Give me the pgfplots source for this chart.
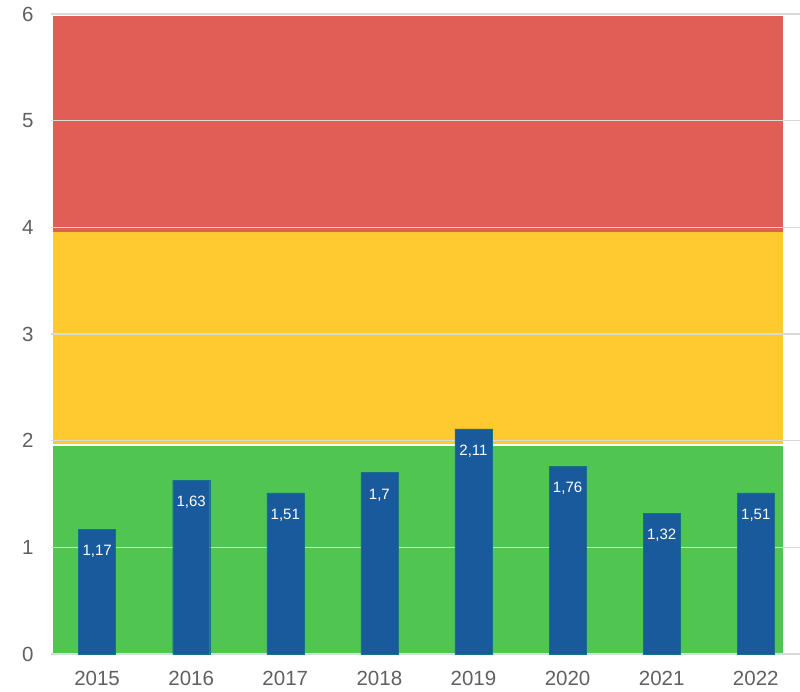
\documentclass[border=0pt]{standalone}
\usepackage{fontspec}
\setmainfont{Liberation Sans}
\usepackage{pgfplots}
\pgfplotsset{compat=1.18}
\definecolor{bandred}{RGB}{224,94,85}
\definecolor{bandyellow}{RGB}{255,202,47}
\definecolor{bandgreen}{RGB}{80,197,81}
\definecolor{barblue}{RGB}{24,90,155}
\definecolor{gridgray}{RGB}{217,217,217}
\definecolor{labelgray}{RGB}{96,96,96}
\begin{document}
\begin{tikzpicture}
\begin{axis}[
  set layers,
  at={(51pt,37pt)}, anchor=south west,
  scale only axis,
  width=749pt, height=640pt,
  xmin=-0.49, xmax=7.47,
  ymin=0, ymax=6,
  axis lines=none,
  ymajorgrids,
  grid style={gridgray, line width=1.3pt},
  xtick={0,...,7},
  xticklabels={2015,2016,2017,2018,2019,2020,2021,2022},
  ytick={0,...,6},
  major tick length=0pt,
  tick label style={font=\fontsize{20.5}{24}\selectfont, text=labelgray},
  xticklabel style={yshift=-14pt},
  yticklabel style={xshift=-14pt},
  /pgf/number format/assume math mode=true,
  /pgf/number format/use comma,
  hide x axis=false, hide y axis=false,
  x axis line style={draw=none}, y axis line style={draw=none},
  axis line style={draw=none},
  clip=false,
]
% bands
\begin{pgfonlayer}{axis background}
\addplot[draw=none, fill=bandgreen] coordinates {(-0.47,0) (7.29,0) (7.29,1.95) (-0.47,1.95)} -- cycle;
\addplot[draw=none, fill=bandyellow] coordinates {(-0.47,1.97) (7.29,1.97) (7.29,3.96) (-0.47,3.96)} -- cycle;
\addplot[draw=none, fill=bandred] coordinates {(-0.47,3.96) (7.29,3.96) (7.29,5.985) (-0.47,5.985)} -- cycle;
\end{pgfonlayer}
\addplot[ybar, bar width=37pt, fill=barblue, draw=barblue!85!green, line width=0.4pt,
  nodes near coords,
  nodes near coords style={anchor=north, inner sep=0pt, yshift=-16pt, text=white,
    font=\fontsize{15}{18}\selectfont,
    /pgf/number format/assume math mode=true, /pgf/number format/use comma},
] coordinates {(0,1.17) (1,1.63) (2,1.51) (3,1.7) (4,2.11) (5,1.76) (6,1.32) (7,1.51)};
\end{axis}
\pgfresetboundingbox
\path (0,0) rectangle (800pt,691pt);
\end{tikzpicture}
\end{document}
